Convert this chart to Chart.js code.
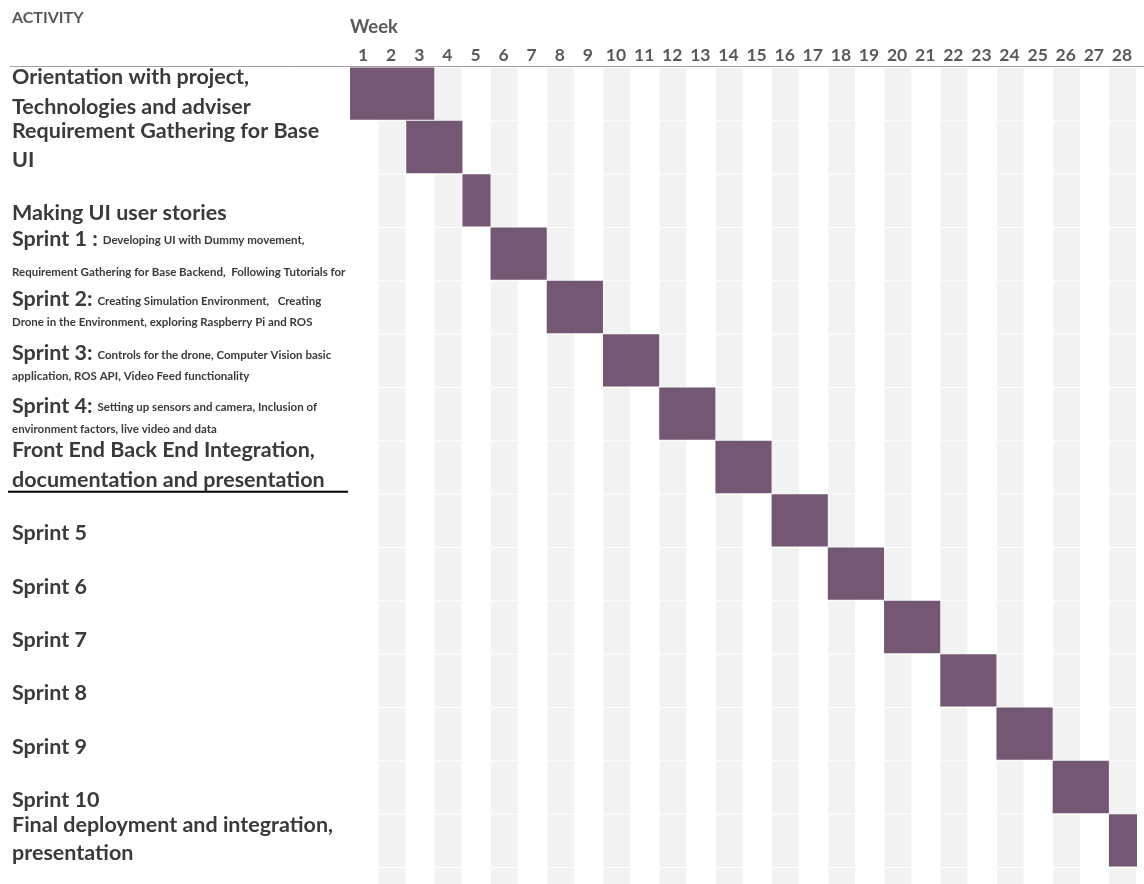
<!DOCTYPE html>
<html>
<head>
<meta charset="utf-8">
<script src="https://cdn.jsdelivr.net/npm/chart.js@4/dist/chart.umd.min.js"></script>
<style>
  body { margin: 0; background: #fff; overflow: hidden; }
  canvas { display: block; }
</style>
</head>
<body>
<canvas id="gantt" width="1144" height="884"></canvas>
<script>
// tasks, in row order (short keys for the category axis)
const taskKeys = [
  "orientation", "reqUI", "userStories", "sprint1", "sprint2", "sprint3", "sprint4",
  "integration", "sprint5", "sprint6", "sprint7", "sprint8", "sprint9", "sprint10", "final",
];

// first and last week of each task
const startWeek = [1, 3, 5, 6, 8, 10, 12, 14, 16, 18, 20, 22, 24, 26, 28];
const endWeek = [3, 4, 5, 7, 9, 11, 13, 15, 17, 19, 21, 23, 25, 27, 28];

// week header
const weekLabels = [
  "1", "2", "3", "4", "5", "6", "7", "8", "9", "10", "11", "12", "13", "14",
  "15", "16", "17", "18", "19", "20", "21", "22", "23", "24", "25", "26", "27", "28",
];

// activity text, "|" splits the big title from the small description
const activityLines = [
  ["Orientation with project,", "Technologies and adviser"],
  ["Requirement Gathering for Base", "UI"],
  ["Making UI user stories"],
  ["Sprint 1 :|Developing UI with Dummy movement,", "|Requirement Gathering for Base Backend,  Following Tutorials for"],
  ["Sprint 2:|Creating Simulation Environment,   Creating", "|Drone in the Environment, exploring Raspberry Pi and ROS"],
  ["Sprint 3:|Controls for the drone, Computer Vision basic", "|application, ROS API, Video Feed functionality"],
  ["Sprint 4:|Setting up sensors and camera, Inclusion of", "|environment factors, live video and data"],
  ["Front End Back End Integration,", "documentation and presentation"],
  ["Sprint 5"],
  ["Sprint 6"],
  ["Sprint 7"],
  ["Sprint 8"],
  ["Sprint 9"],
  ["Sprint 10"],
  ["Final deployment and integration,", "presentation"],
];

// vertical offset of each text line from the row centre
const lineOffsets = [
  [-17, 13], [-16, 13], [13], [-15, 17], [-8, 13], [-7, 14], [-8, 14], [-17, 13],
  [13], [13], [13], [13], [13], [13], [-15, 13],
];

const barColor = "#745773";
const textColor = "#3a3a3a";
const headColor = "#595959";
const bigFont = "bold 21.5px Lato";
const smallFont = "bold 11.5px Lato";

const gridCells = {
  id: "gridCells",
  beforeDatasetsDraw(chart) {
    const { ctx, chartArea, scales } = chart;
    const rowH = (chartArea.bottom - chartArea.top) / taskKeys.length;
    ctx.save();
    ctx.fillStyle = "#f2f2f2";
    for (let w = 2; w <= weekLabels.length; w += 2) {
      const x0 = scales.x.getPixelForValue(w - 1) + 0.5;
      const x1 = scales.x.getPixelForValue(w) - 1;
      // one extra row below the last task, cut by the canvas edge
      for (let r = 0; r <= taskKeys.length; r++) {
        const y0 = chartArea.top + r * rowH + 1;
        ctx.fillRect(x0, y0, x1 - x0, rowH - 1);
      }
    }
    ctx.restore();
  },
};

const sheetText = {
  id: "sheetText",
  afterDraw(chart) {
    const { ctx, chartArea, scales } = chart;
    const rowH = (chartArea.bottom - chartArea.top) / taskKeys.length;
    ctx.save();
    ctx.textBaseline = "middle";

    // header
    ctx.fillStyle = headColor;
    ctx.font = "bold 16px Lato";
    ctx.fillText("ACTIVITY", 12, 18);
    ctx.font = "bold 18.5px Lato";
    ctx.fillText("Week", 350, 27);
    ctx.font = "bold 17.5px Lato";
    ctx.textAlign = "center";
    weekLabels.forEach((lab, i) => {
      ctx.fillText(lab, scales.x.getPixelForValue(i + 0.5) - 1, 55);
    });
    ctx.textAlign = "left";

    ctx.strokeStyle = "#a99bab";
    ctx.lineWidth = 1;
    ctx.beginPath();
    ctx.moveTo(10, chartArea.top - 0.5);
    ctx.lineTo(1144, chartArea.top - 0.5);
    ctx.stroke();

    // activity column
    ctx.fillStyle = textColor;
    activityLines.forEach((lines, r) => {
      const cy = scales.y.getPixelForValue(r);
      lines.forEach((line, j) => {
        const y = cy + lineOffsets[r][j];
        const parts = line.split("|");
        let x = 12;
        if (parts[0]) {
          ctx.font = bigFont;
          ctx.fillText(parts[0], x, y);
          x += ctx.measureText(parts[0]).width + 5;
        }
        if (parts.length > 1) {
          ctx.font = smallFont;
          ctx.fillText(parts[1], x, y + 2);
        }
      });
    });

    // underline below the integration row
    const uy = chartArea.top + 8 * rowH - 2;
    ctx.strokeStyle = "#000";
    ctx.lineWidth = 2;
    ctx.beginPath();
    ctx.moveTo(8, uy);
    ctx.lineTo(348, uy);
    ctx.stroke();
    ctx.restore();
  },
};

new Chart(document.getElementById("gantt"), {
  type: "bar",
  data: {
    labels: taskKeys,
    datasets: [{
      data: startWeek.map((s, i) => [s - 1, endWeek[i]]),
      backgroundColor: barColor,
      borderWidth: 0,
      categoryPercentage: 1,
      barPercentage: 0.98,
    }],
  },
  options: {
    indexAxis: "y",
    responsive: false,
    animation: false,
    devicePixelRatio: 1,
    layout: { padding: { left: 350, right: 7, top: 67, bottom: 17 } },
    plugins: { legend: { display: false }, tooltip: { enabled: false } },
    scales: {
      x: { type: "linear", min: 0, max: 28, display: false },
      y: { display: false },
    },
  },
  plugins: [gridCells, sheetText],
});
</script>
</body>
</html>
